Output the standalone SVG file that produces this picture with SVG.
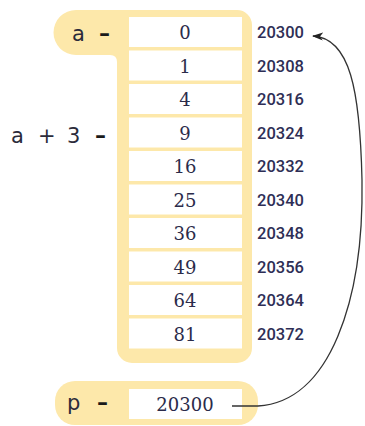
<svg xmlns="http://www.w3.org/2000/svg" width="365" height="426" viewBox="0 0 365 426">
<style>
.y{fill:#fde8aa}
.cell{fill:#ffffff}
.num{font-family:"DejaVu Serif",serif;font-size:18px;fill:#2b2b4a;text-anchor:middle}
.addr{font-family:Roboto,"DejaVu Sans",sans-serif;font-size:16.5px;font-weight:500;fill:#2e2e55}
.lab{font-family:"DejaVu Sans",sans-serif;font-size:21px;fill:#2b2b3a}
.dash{font-family:"DejaVu Sans",sans-serif;font-size:22px;font-weight:bold;fill:#1a1a1a}
.conn{fill:none;stroke:#333;stroke-width:1.3}
</style>
<defs>
<marker id="ah" markerWidth="11" markerHeight="8" refX="10" refY="4" orient="auto" markerUnits="userSpaceOnUse">
<path d="M0,0 L11,4 L0,8 L3,4 Z" fill="#222"/>
</marker>
</defs>
<g id="array-a">
<path class="y" d="M76,10 H237 A15,15 0 0 1 252,25 V348 A15,15 0 0 1 237,363 H132 A15,15 0 0 1 117,348 V62 Q117,55 110,55 H76 A22.5,22.5 0 0 1 76,10 Z"/>
<text class="lab" x="72" y="41">a</text>
<text class="dash" x="99" y="41">–</text>
<rect class="cell" x="129" y="17" width="113" height="30"/>
<rect class="cell" x="129" y="50.5" width="113" height="30"/>
<rect class="cell" x="129" y="84" width="113" height="30"/>
<rect class="cell" x="129" y="117.5" width="113" height="30"/>
<rect class="cell" x="129" y="151" width="113" height="30"/>
<rect class="cell" x="129" y="184.5" width="113" height="30"/>
<rect class="cell" x="129" y="218" width="113" height="30"/>
<rect class="cell" x="129" y="251.5" width="113" height="30"/>
<rect class="cell" x="129" y="285" width="113" height="30"/>
<rect class="cell" x="129" y="318.5" width="113" height="30"/>
<text class="num" x="185" y="39">0</text>
<text class="num" x="185" y="72.5">1</text>
<text class="num" x="185" y="106">4</text>
<text class="num" x="185" y="139.5">9</text>
<text class="num" x="185" y="173">16</text>
<text class="num" x="185" y="206.5">25</text>
<text class="num" x="185" y="240">36</text>
<text class="num" x="185" y="273.5">49</text>
<text class="num" x="185" y="307">64</text>
<text class="num" x="185" y="340.5">81</text>
<text class="addr" x="257" y="38">20300</text>
<text class="addr" x="257" y="71.5">20308</text>
<text class="addr" x="257" y="105">20316</text>
<text class="addr" x="257" y="138.5">20324</text>
<text class="addr" x="257" y="172">20332</text>
<text class="addr" x="257" y="205.5">20340</text>
<text class="addr" x="257" y="239">20348</text>
<text class="addr" x="257" y="272.5">20356</text>
<text class="addr" x="257" y="306">20364</text>
<text class="addr" x="257" y="339.5">20372</text>
</g>
<g id="label-a3">
<text class="lab" x="11" y="143">a</text>
<text class="lab" x="38" y="143">+</text>
<text class="lab" x="67" y="143">3</text>
<text class="dash" x="95" y="143">–</text>
</g>
<g id="pointer-p">
<rect class="y" x="55" y="381" width="203" height="44" rx="20"/>
<rect class="cell" x="129" y="389" width="113" height="30"/>
<text class="lab" x="67" y="410">p</text>
<text class="dash" x="97" y="410">–</text>
<text class="num" x="185" y="411">20300</text>
</g>
<g id="connectors">
<path class="conn" marker-end="url(#ah)" d="M232,406 L258,406 C330,402 364,300 362,180 C360,90 350,38 313,36"/>
</g>
</svg>
